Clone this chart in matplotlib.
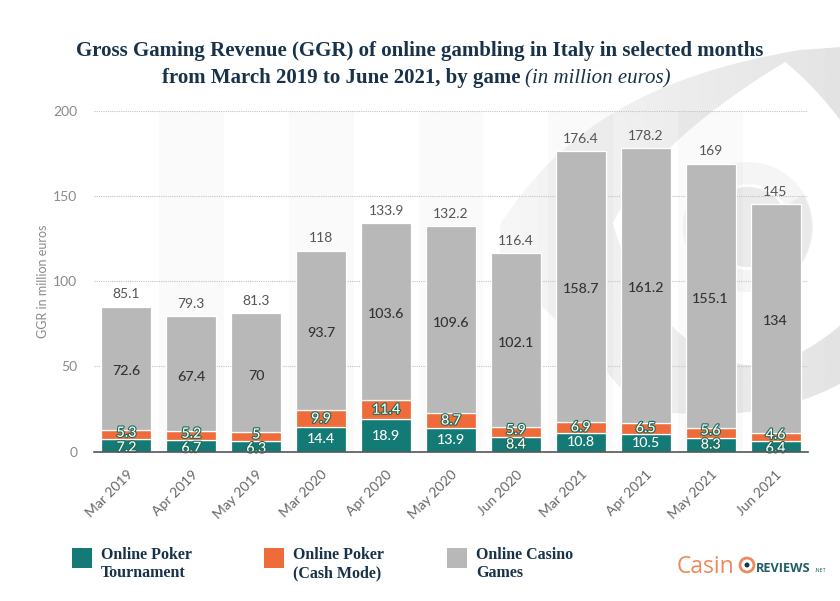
import numpy as np
import matplotlib
matplotlib.use("Agg")
import matplotlib.pyplot as plt
import matplotlib.patheffects as pe
from matplotlib.patches import Circle, PathPatch, Rectangle, Wedge
from matplotlib.path import Path

months = ["Mar 2019", "Apr 2019", "May 2019", "Mar 2020", "Apr 2020", "May 2020",
          "Jun 2020", "Mar 2021", "Apr 2021", "May 2021", "Jun 2021"]
tournament = [7.2, 6.7, 6.3, 14.4, 18.9, 13.9, 8.4, 10.8, 10.5, 8.3, 6.4]
cash_mode = [5.3, 5.2, 5, 9.9, 11.4, 8.7, 5.9, 6.9, 6.5, 5.6, 4.6]
casino = [72.6, 67.4, 70, 93.7, 103.6, 109.6, 102.1, 158.7, 161.2, 155.1, 134]
totals = ["85.1", "79.3", "81.3", "118", "133.9", "132.2", "116.4", "176.4", "178.2", "169", "145"]
y_ticks = [0, 50, 100, 150, 200]

TEAL = "#137a76"
ORANGE = "#ef6b3a"
GRAY = "#b8b8b8"
NAVY = "#18324a"
W, H = 840, 601

plt.rcParams["font.family"] = ["Lato", "DejaVu Sans"]
fig = plt.figure(figsize=(W / 100, H / 100), dpi=100, facecolor="white")

# fond en pixels de l'image : filigrane, titre, legende, logo
bg = fig.add_axes([0, 0, 1, 1], zorder=0)
bg.set_xlim(0, W)
bg.set_ylim(H, 0)
bg.axis("off")

C4 = Path.CURVE4
outer = Path([(500, 225), (560, 130), (650, 75), (800, 50), (870, 45), (870, 365),
              (800, 415), (730, 420), (640, 410), (560, 320), (500, 225)],
             [Path.MOVETO, C4, C4, C4, Path.LINETO, Path.LINETO, C4, C4, C4, C4, C4])
grad = np.linspace(0.965, 0.885, 256).reshape(1, -1)
im = bg.imshow(grad, extent=(500, 870, 430, 40), cmap="gray", vmin=0, vmax=1,
               aspect="auto", zorder=1)
clip = PathPatch(outer, fc="none", ec="none", transform=bg.transData)
bg.add_patch(clip)
im.set_clip_path(clip)
bg.set_xlim(0, W)
bg.set_ylim(H, 0)

inner = Path([(613, 223), (640, 170), (690, 120), (785, 62), (820, 90), (850, 130), (870, 165),
              (870, 300), (820, 345), (790, 365), (750, 365), (690, 365), (630, 290), (613, 223)],
             [Path.MOVETO, C4, C4, C4, C4, C4, C4, Path.LINETO, C4, C4, C4, C4, C4, C4])
bg.add_patch(PathPatch(inner, fc="white", ec="none", zorder=2))
bg.add_patch(Circle((748, 227), 65, fc="#f5f5f5", ec="none", zorder=3))
bg.add_patch(Wedge((748, 227), 64, -30, 80, width=15, fc="#e9e9e9", ec="none", zorder=3))
bg.add_patch(Circle((748, 227), 43, fc="white", ec="none", zorder=3))
bg.add_patch(Circle((748, 227), 40, fc="#ebebeb", ec="none", zorder=3))

bg.text(420, 56, "Gross Gaming Revenue (GGR) of online gambling in Italy in selected months",
        family="Liberation Serif", weight="bold", fontsize=15, color=NAVY, ha="center")
bg.text(520, 83, "from March 2019 to June 2021, by game",
        family="Liberation Serif", weight="bold", fontsize=15, color=NAVY, ha="right")
bg.text(525, 83, "(in million euros)", family="Liberation Serif", style="italic",
        fontsize=15, color=NAVY, ha="left")

legend_items = [(72, TEAL, "Online Poker\nTournament"),
                (264, ORANGE, "Online Poker\n(Cash Mode)"),
                (447, GRAY, "Online Casino\nGames")]
for lx, colour, label in legend_items:
    bg.add_patch(Rectangle((lx, 548), 20, 20, fc=colour, ec="none"))
    first, second = label.split("\n")
    bg.text(lx + 29, 559, first, family="Liberation Serif", weight="bold",
            fontsize=11.5, color=NAVY)
    bg.text(lx + 29, 577, second, family="Liberation Serif", weight="bold",
            fontsize=11.5, color=NAVY)

# logo
bg.text(677, 573, "Casin", family="Open Sans", weight="medium", fontsize=16.5, color="#ee8a5c")
bg.add_patch(Circle((747, 565), 7, fc="white", ec="#ee8a5c", lw=2))
bg.add_patch(Circle((747, 565), 2.5, fc=NAVY, ec="none"))
bg.text(756, 572, "REVIEWS", family="Open Sans", weight="bold", fontsize=9.2, color="#1f5f63")
bg.text(815, 572, ".NET", family="Open Sans", fontsize=4, color="#1f5f63")

# le graphique
ax = fig.add_axes([94 / W, 1 - 451.7 / H, 714 / W, 341 / H], zorder=1)
ax.patch.set_alpha(0)
x = np.arange(len(months))
for i in x[1::2]:
    ax.axvspan(i - 0.5, i + 0.5, color="black", alpha=0.018, lw=0, zorder=0)

tournament = np.array(tournament)
cash_mode = np.array(cash_mode)
casino = np.array(casino)
bar_kw = dict(width=0.77, edgecolor="white", linewidth=0.9, zorder=3)
ax.bar(x, tournament, color=TEAL, **bar_kw)
ax.bar(x, cash_mode, bottom=tournament, color=ORANGE, **bar_kw)
ax.bar(x, casino, bottom=tournament + cash_mode, color=GRAY, **bar_kw)

outline = [pe.withStroke(linewidth=1.6, foreground="#1c6b57")]
for i in x:
    t, c, g = tournament[i], cash_mode[i], casino[i]
    ax.annotate(f"{t:g}", (i, t / 2), xytext=(0, -1.5 if t < 8 else 0), textcoords="offset points",
                ha="center", va="center", color="white", fontsize=10.3, weight="medium", zorder=5,
                path_effects=outline if t < 9 else None)
    ax.annotate(f"{c:g}", (i, t + c / 2), xytext=(0, 1.5 if c < 6 else 0), textcoords="offset points",
                ha="center", va="center", color="white", fontsize=10.3, weight="medium", zorder=6,
                path_effects=outline)
    ax.annotate(f"{g:g}", (i, t + c + g / 2), xytext=(0, -2), textcoords="offset points",
                ha="center", va="center", color="#333333", fontsize=10.3, weight="medium", zorder=5)
    ax.annotate(totals[i], (i, t + c + g), xytext=(0, 4.5), textcoords="offset points",
                ha="center", va="bottom", color="#555555", fontsize=10, zorder=5)

ax.set_xlim(-0.5, 10.5)
ax.set_ylim(0, 200)
ax.set_yticks(y_ticks)
ax.set_xticks(x)
ax.set_xticklabels(months, rotation=45, ha="right", rotation_mode="anchor")
ax.tick_params(axis="x", length=0, pad=12, labelsize=10, labelcolor="#666666")
ax.tick_params(axis="y", length=0, pad=12, labelsize=10, labelcolor="#8a8a8a")
ax.grid(axis="y", color="#c4c4c4", linestyle=(0, (1, 1)), linewidth=0.8, zorder=1)
ax.set_axisbelow(True)
for name in ["top", "right", "left"]:
    ax.spines[name].set_visible(False)
ax.spines["bottom"].set_color("#555555")
ax.spines["bottom"].set_linewidth(1.2)
ax.spines["bottom"].set_zorder(7)
ax.set_ylabel("GGR in million euros", fontsize=9, color="#8a8a8a")
ax.yaxis.set_label_coords((49 - 94) / 714, 0.5)

fig.savefig("out.png", dpi=100)
